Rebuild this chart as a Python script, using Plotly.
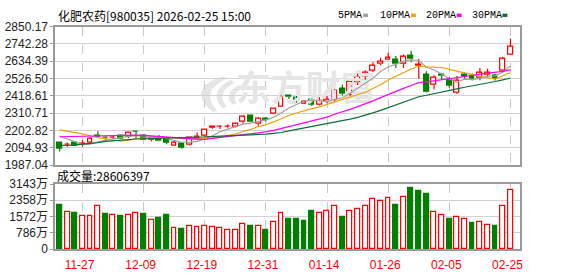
import plotly.graph_objects as go

# ---------------- data ----------------
dates = ["2025-11-24", "2025-11-25", "2025-11-26", "2025-11-27", "2025-11-28",
         "2025-12-01", "2025-12-02", "2025-12-03", "2025-12-04", "2025-12-05",
         "2025-12-08", "2025-12-09", "2025-12-10", "2025-12-11", "2025-12-12",
         "2025-12-15", "2025-12-16", "2025-12-17", "2025-12-18", "2025-12-19",
         "2025-12-22", "2025-12-23", "2025-12-24", "2025-12-25", "2025-12-26",
         "2025-12-29", "2025-12-30", "2025-12-31", "2026-01-05", "2026-01-06",
         "2026-01-07", "2026-01-08", "2026-01-09", "2026-01-12", "2026-01-13",
         "2026-01-14", "2026-01-15", "2026-01-16", "2026-01-19", "2026-01-20",
         "2026-01-21", "2026-01-22", "2026-01-23", "2026-01-26", "2026-01-27",
         "2026-01-28", "2026-01-29", "2026-01-30", "2026-02-02", "2026-02-03",
         "2026-02-04", "2026-02-05", "2026-02-06", "2026-02-09", "2026-02-10",
         "2026-02-11", "2026-02-12", "2026-02-13", "2026-02-24", "2026-02-25"]

opens = [2125, 2113, 2130, 2113, 2130, 2174, 2160, 2158, 2168, 2162,
         2197, 2174, 2145, 2158, 2150, 2111, 2120, 2113, 2150, 2170,
         2222, 2225, 2228, 2229, 2257, 2298, 2243, 2274, 2306, 2351,
         2418, 2406, 2371, 2398, 2365, 2385, 2395, 2463, 2427, 2503,
         2539, 2578, 2617, 2643, 2647, 2622, 2667, 2609, 2552, 2487,
         2552, 2518, 2436, 2554, 2546, 2530, 2552, 2544, 2578, 2677]
highs = [2131, 2128, 2135, 2144, 2160, 2199, 2162, 2174, 2172, 2193,
         2199, 2178, 2158, 2175, 2152, 2137, 2122, 2162, 2190, 2210,
         2233, 2236, 2240, 2250, 2297, 2300, 2286, 2286, 2340, 2422,
         2422, 2418, 2385, 2402, 2410, 2418, 2460, 2489, 2510, 2557,
         2578, 2628, 2657, 2688, 2668, 2677, 2700, 2648, 2572, 2548,
         2555, 2538, 2543, 2564, 2558, 2593, 2588, 2557, 2663, 2776]
lows = [2072, 2101, 2105, 2101, 2125, 2163, 2145, 2151, 2150, 2155,
        2152, 2146, 2135, 2136, 2118, 2109, 2089, 2110, 2145, 2165,
        2214, 2213, 2220, 2222, 2247, 2255, 2233, 2259, 2304, 2349,
        2400, 2376, 2368, 2356, 2358, 2373, 2385, 2421, 2418, 2486,
        2519, 2568, 2608, 2640, 2592, 2593, 2628, 2525, 2440, 2460,
        2518, 2470, 2430, 2525, 2515, 2516, 2540, 2515, 2568, 2675]
closes = [2093, 2115, 2111, 2120, 2153, 2166, 2156, 2161, 2155, 2190,
          2193, 2148, 2157, 2138, 2128, 2127, 2099, 2160, 2162, 2206,
          2224, 2227, 2230, 2244, 2287, 2257, 2279, 2272, 2338, 2415,
          2414, 2386, 2381, 2364, 2391, 2395, 2454, 2430, 2505, 2541,
          2563, 2607, 2635, 2655, 2617, 2663, 2648, 2613, 2444, 2533,
          2542, 2485, 2516, 2539, 2528, 2562, 2562, 2525, 2651, 2728]

ma5 = [2168, 2150, 2132, 2115, 2118.4, 2133.0, 2141.2, 2151.2, 2158.2, 2165.6,
       2171.0, 2169.4, 2168.6, 2165.2, 2152.8, 2139.6, 2129.8, 2130.4, 2135.2, 2150.8,
       2170.2, 2195.8, 2209.8, 2226.2, 2242.4, 2249.0, 2259.4, 2267.8, 2286.6, 2312.2,
       2343.6, 2365.0, 2386.8, 2392.0, 2387.2, 2383.4, 2397.0, 2406.8, 2435.0, 2465.0,
       2498.6, 2529.2, 2570.2, 2600.2, 2615.4, 2635.4, 2643.6, 2639.2, 2597.0, 2580.2,
       2556.0, 2523.4, 2504.0, 2523.0, 2522.0, 2526.0, 2541.4, 2543.2, 2565.6, 2605.6]
ma10 = [2207, 2200, 2192, 2182, 2170, 2158, 2152, 2145, 2136, 2142.0,
        2152.0, 2155.3, 2159.9, 2161.7, 2159.2, 2155.3, 2149.6, 2149.5, 2150.2, 2151.8,
        2154.9, 2162.8, 2170.1, 2180.7, 2196.6, 2209.6, 2227.6, 2238.8, 2256.4, 2277.3,
        2296.3, 2312.2, 2327.3, 2339.3, 2349.7, 2363.5, 2381.0, 2396.8, 2413.5, 2426.1,
        2441.0, 2463.1, 2488.5, 2517.6, 2540.2, 2567.0, 2586.4, 2604.7, 2598.6, 2597.8,
        2595.7, 2583.5, 2571.6, 2560.0, 2551.1, 2541.0, 2532.4, 2523.6, 2544.3, 2563.8]
ma20 = [2164, 2165, 2166, 2167, 2168, 2172, 2174, 2175, 2175, 2175,
        2174, 2172, 2168, 2165, 2162, 2158, 2155, 2152, 2149, 2146.9,
        2153.5, 2159.1, 2165.0, 2171.2, 2177.9, 2182.5, 2188.6, 2194.2, 2203.3, 2214.6,
        2225.6, 2237.5, 2248.7, 2260.0, 2273.2, 2286.6, 2304.3, 2317.8, 2335.0, 2351.7,
        2368.7, 2387.7, 2407.9, 2428.5, 2445.0, 2465.3, 2483.7, 2500.8, 2506.1, 2512.0,
        2518.4, 2523.3, 2530.1, 2538.8, 2545.7, 2554.0, 2559.4, 2564.2, 2571.5, 2580.8]
ma30 = [2110, 2110, 2112, 2118, 2122, 2128, 2135, 2140, 2143, 2146,
        2150, 2152, 2154, 2155, 2156, 2157, 2158, 2160, 2162, 2163,
        2165, 2167, 2168, 2170, 2172, 2174, 2176, 2180, 2185, 2190.4,
        2201.1, 2210.1, 2219.1, 2227.2, 2235.2, 2242.8, 2252.7, 2261.7, 2273.4, 2285.1,
        2297.4, 2312.7, 2328.6, 2345.9, 2362.2, 2380.0, 2398.3, 2413.4, 2422.8, 2433.7,
        2444.3, 2452.9, 2462.5, 2472.3, 2480.3, 2490.5, 2499.9, 2508.4, 2518.8, 2529.2]

# volume in 万 (10k shares); 1 = red (up), 0 = green (down)
volumes = [2118, 1799, 1754, 1617, 1617, 2073, 1708, 1663, 1617, 1663,
           1740, 1708, 1389, 1480, 1663, 1011, 979, 1102, 1070, 1102,
           1070, 1011, 934, 934, 1207, 1116, 1116, 934, 1298, 1754,
           1435, 1435, 1344, 1845, 1740, 1831, 2104, 1572, 1831, 1922,
           2104, 2423, 2332, 2468, 2118, 2514, 2938, 2801, 2665, 1786,
           1663, 1435, 1558, 1467, 1253, 1329, 1148, 1116, 2058, 2861]
vol_up = [0, 1, 0, 1, 1, 1, 0, 1, 0, 1,
          1, 0, 1, 0, 0, 1, 0, 1, 1, 1,
          1, 1, 1, 1, 1, 0, 1, 0, 1, 1,
          0, 0, 0, 0, 1, 1, 1, 0, 1, 1,
          1, 1, 1, 1, 0, 1, 0, 0, 0, 1,
          1, 0, 1, 1, 0, 1, 1, 0, 1, 1]

label_idx = [3, 11, 19, 27, 35, 43, 51, 59]
price_ticks = [1987.04, 2094.93, 2202.82, 2310.71, 2418.61, 2526.50, 2634.39, 2742.28, 2850.17]
vol_ticks = [0, 786, 1572, 2358, 3143]
vol_tick_text = ["0", "786万", "1572万", "2358万", "3143万"]
title_text = "化肥农药[980035] 2026-02-25 15:00"
volume_title = "成交量:28606397"
ma_names = ["5PMA", "10PMA", "20PMA", "30PMA"]
watermark = "东方财富"

# ---------------- style ----------------
W, H = 578, 276
RED = "#ff0000"
GREEN = "#008000"
MA_COLORS = ["#a0a0a0", "#f0a000", "#ff00ff", "#0b6e35"]
GRID = "#d2d2d2"
BORDER = "#9a9a9a"
WM = "#e5e5e5"


def px(xp):
    return xp / W


def py(yp):
    return 1 - yp / H


X0, X1 = 55.5, 522.5
MAIN_T, MAIN_B = 20.7, 166.6
VOL_T, VOL_B = 186.5, 255.0

n = len(dates)
xs = list(range(n))
up = [c >= o for o, c in zip(opens, closes)]
body_base = [min(o, c) for o, c in zip(opens, closes)]
body_h = [max(abs(c - o), 0.8) for o, c in zip(opens, closes)]

fig = go.Figure()

# watermark text (drawn first, under the lines)
fig.add_trace(go.Scatter(x=[32.2], y=[2440], mode="text", text=["<b>" + watermark + "</b>"],
                         textfont=dict(family="Noto Sans CJK SC", size=35, color=WM),
                         hoverinfo="skip", showlegend=False, xaxis="x", yaxis="y"))

# candle bodies
fig.add_trace(go.Bar(
    x=xs, y=body_h, base=body_base, width=0.64,
    marker=dict(color=["#ffffff" if u else GREEN for u in up],
                line=dict(color=[RED if u else GREEN for u in up], width=1.2)),
    hoverinfo="skip", showlegend=False, xaxis="x", yaxis="y"))

# wicks (upper and lower parts separately so hollow bodies stay hollow)
for flag, col in ((True, RED), (False, GREEN)):
    wx, wy = [], []
    for i in range(n):
        if up[i] != flag:
            continue
        top = max(opens[i], closes[i])
        bot = min(opens[i], closes[i])
        wx += [i, i, None, i, i, None]
        wy += [highs[i], top, None, bot, lows[i], None]
    fig.add_trace(go.Scatter(x=wx, y=wy, mode="lines", line=dict(color=col, width=1.2),
                             hoverinfo="skip", showlegend=False, xaxis="x", yaxis="y"))

# moving averages
for vals, col in zip([ma5, ma10, ma20, ma30], MA_COLORS):
    fig.add_trace(go.Scatter(x=xs, y=vals, mode="lines", line=dict(color=col, width=1.2),
                             hoverinfo="skip", showlegend=False, xaxis="x", yaxis="y"))

# volume bars
fig.add_trace(go.Bar(
    x=xs, y=volumes, width=0.64,
    marker=dict(color=["#ffffff" if u else GREEN for u in vol_up],
                line=dict(color=[RED if u else GREEN for u in vol_up], width=1.2)),
    hoverinfo="skip", showlegend=False, xaxis="x2", yaxis="y2"))

axis_common = dict(showline=True, mirror=True, linecolor=BORDER, linewidth=1.5,
                   zeroline=False, fixedrange=True)

fig.update_layout(
    width=W, height=H,
    margin=dict(l=0, r=0, t=0, b=0),
    paper_bgcolor="white", plot_bgcolor="white",
    showlegend=False, bargap=0, barmode="overlay",
    xaxis=dict(domain=[px(X0), px(X1)], range=[-0.58, 60.22], anchor="y",
               tickmode="array", tickvals=label_idx, showticklabels=False, ticks="",
               showgrid=True, gridcolor="#c8c8c8", griddash="dash", gridwidth=1, **axis_common),
    yaxis=dict(domain=[py(MAIN_B), py(MAIN_T)], range=[price_ticks[0], price_ticks[-1]], anchor="x",
               tickmode="array", tickvals=price_ticks, ticktext=["%.2f" % v for v in price_ticks],
               ticks="outside", ticklen=3, tickcolor=BORDER,
               tickfont=dict(family="Liberation Sans", size=12, color="#222"),
               showgrid=True, gridcolor=GRID, gridwidth=1, **axis_common),
    xaxis2=dict(domain=[px(X0), px(X1)], range=[-0.58, 60.22], anchor="y2", matches="x",
                tickmode="array", tickvals=label_idx, ticktext=[dates[i][5:] for i in label_idx],
                ticks="", ticklabelstandoff=4, ticklabelshift=-3,
                tickfont=dict(family="Liberation Sans", size=12, color=RED),
                showgrid=True, gridcolor="#c8c8c8", griddash="dash", gridwidth=1, **axis_common),
    yaxis2=dict(domain=[py(VOL_B), py(VOL_T)], range=[0, 3143], anchor="x2",
                tickmode="array", tickvals=vol_ticks, ticktext=vol_tick_text,
                ticks="outside", ticklen=3, tickcolor=BORDER,
                tickfont=dict(family="Liberation Sans, Noto Sans CJK SC", size=12, color="#222"),
                showgrid=True, gridcolor=GRID, gridwidth=1, **axis_common),
)

annotations = [
    dict(x=px(56), y=py(9), xref="paper", yref="paper", xanchor="left", yanchor="middle",
         text=title_text, showarrow=False,
         font=dict(family="Noto Sans CJK SC", size=12, color="#000")),
    dict(x=px(55), y=py(177), xref="paper", yref="paper", xanchor="left", yanchor="middle",
         text=volume_title, showarrow=False,
         font=dict(family="Noto Sans CJK SC", size=12, color="#000")),
]
shapes = []
leg_x = [338, 380, 426, 472]
sq_x = [365, 413, 459, 505]
for name, col, lx, sx in zip(ma_names, MA_COLORS, leg_x, sq_x):
    annotations.append(dict(x=px(lx), y=py(9), xref="paper", yref="paper", xanchor="left",
                            yanchor="middle", text=name, showarrow=False,
                            font=dict(family="Liberation Mono", size=10, color="#000")))
    shapes.append(dict(type="rect", xref="paper", yref="paper",
                       x0=px(sx), x1=px(sx + 5), y0=py(10.5), y1=py(7),
                       fillcolor=col, line=dict(width=0)))


# watermark logo: three curved strokes, drawn below the data
def logo_path(pts):
    out = []
    for cmd, *coords in pts:
        vals = []
        for k in range(0, len(coords), 2):
            vals.append("%.5f,%.5f" % (px(coords[k]), py(coords[k + 1])))
        out.append(cmd + " " + " ".join(vals))
    return " ".join(out) + " Z"


strokes = [
    [("M", 224, 73), ("Q", 186, 86, 214, 111), ("L", 218, 109), ("Q", 200, 88, 229, 75)],
    [("M", 232, 77), ("Q", 208, 90, 224, 107), ("L", 228, 105), ("Q", 216, 90, 236, 80)],
    [("M", 240, 82), ("Q", 224, 92, 234, 103), ("L", 238, 101), ("Q", 232, 92, 243, 86)],
]
for st in strokes:
    shapes.append(dict(type="path", xref="paper", yref="paper", path=logo_path(st),
                       fillcolor=WM, line=dict(width=0), layer="below"))

fig.update_layout(annotations=annotations, shapes=shapes)

fig.write_html("out.html")
